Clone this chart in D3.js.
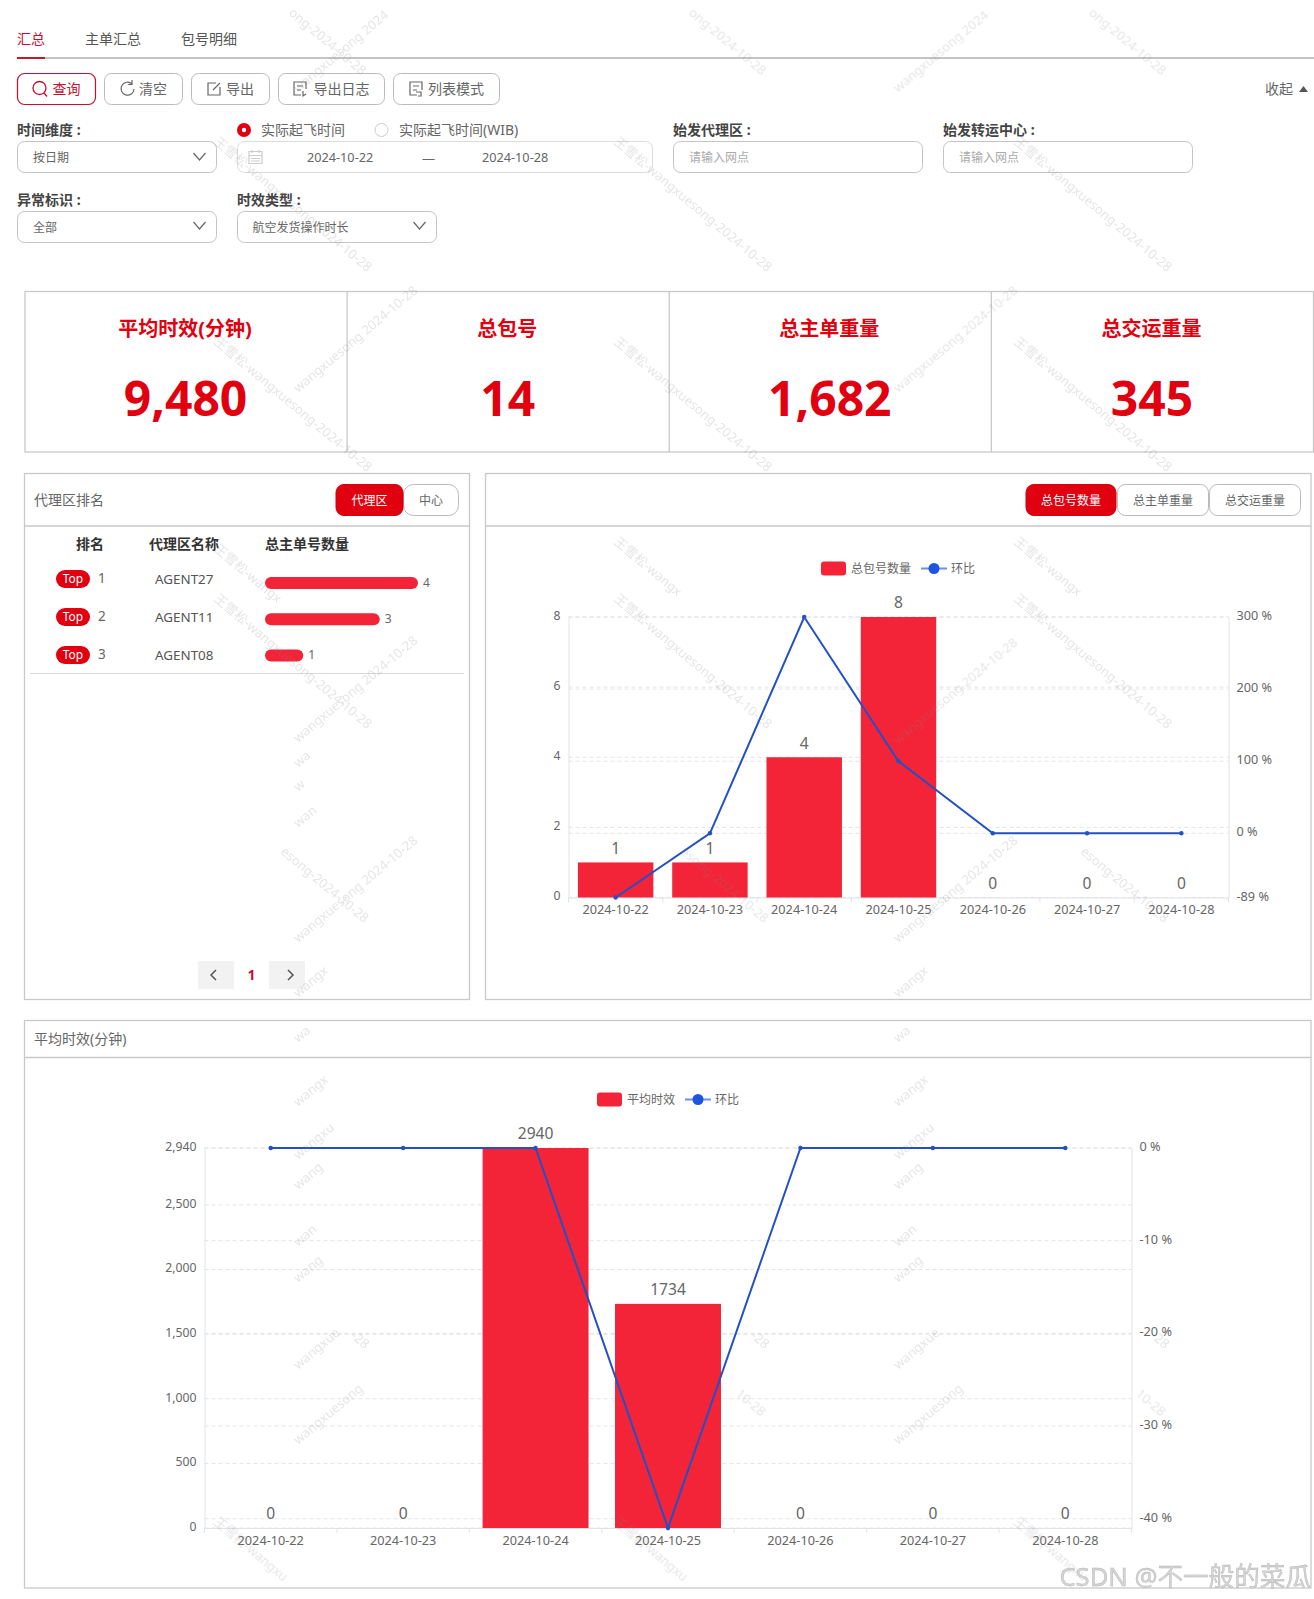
<!DOCTYPE html>
<html>
<head>
<meta charset="utf-8">
<title>汇总</title>
<script src="https://cdn.jsdelivr.net/npm/d3@7/dist/d3.min.js"></script>
<style>
  html, body { margin: 0; padding: 0; background: #fff; overflow: hidden; }
  svg { display: block; }
  text { font-family: "Noto Sans", "Noto Sans CJK SC", sans-serif; }
</style>
</head>
<body>
<div id="page"></div>
<script>
// chart data
var dates = ["2024-10-22", "2024-10-23", "2024-10-24", "2024-10-25", "2024-10-26", "2024-10-27", "2024-10-28"];

var packageCounts = [1, 1, 4, 8, 0, 0, 0];
var packageRatio = [-89, 0, 300, 100, 0, 0, 0];
var packageLeftTicks = [0, 2, 4, 6, 8];
var packageRightTicks = [-89, 0, 100, 200, 300];

var avgTimes = [0, 0, 2940, 1734, 0, 0, 0];
var avgRatio = [0, 0, 0, -41, 0, 0, 0];
var avgLeftTicks = [0, 500, 1000, 1500, 2000, 2500, 2940];
var avgRightTicks = [-40, -30, -20, -10, 0];

var rankNames = ["AGENT27", "AGENT11", "AGENT08"];
var rankValues = [4, 3, 1];

var kpiTitles = ["平均时效(分钟)", "总包号", "总主单重量", "总交运重量"];
var kpiValues = [9480, 14, 1682, 345];

var red = "#e1000f";
var barRed = "#f32437";
var lineBlue = "#2350c4";
var border = "#c9c9c9";

var svg = d3.select("#page")
  .append("svg")
  .attr("width", 1314)
  .attr("height", 1599);

// small helpers for the page furniture
function txt(x, y, s, size, color, anchor, weight) {
  return svg.append("text")
    .attr("x", x)
    .attr("y", y)
    .attr("dy", "0.35em")
    .attr("font-size", size)
    .attr("fill", color)
    .attr("text-anchor", anchor || "start")
    .attr("font-weight", weight || 400)
    .text(s);
}

function box(x, y, w, h, r, fill, stroke, sw) {
  return svg.append("rect")
    .attr("x", x).attr("y", y)
    .attr("width", w).attr("height", h)
    .attr("rx", r)
    .attr("fill", fill)
    .attr("stroke", stroke || "none")
    .attr("stroke-width", sw || 1);
}

function icon(d, color, sw) {
  return svg.append("path")
    .attr("d", d)
    .attr("fill", "none")
    .attr("stroke", color)
    .attr("stroke-width", sw || 1.2);
}

function chevron(x, y) {
  icon("M" + (x - 6) + "," + (y - 4) + "L" + x + "," + (y + 3) + "L" + (x + 6) + "," + (y - 4), "#666");
}

// tabs
txt(17, 39, "汇总", 14, "#c8102e");
txt(85, 39, "主单汇总", 14, "#555");
txt(181, 39, "包号明细", 14, "#555");
svg.append("line").attr("x1", 17).attr("x2", 1314).attr("y1", 58).attr("y2", 58)
  .attr("stroke", "#c4c4c4").attr("stroke-width", 2);
svg.append("line").attr("x1", 17).attr("x2", 45).attr("y1", 58).attr("y2", 58)
  .attr("stroke", "#b5202c").attr("stroke-width", 2);

// toolbar
box(17.5, 73.5, 78, 31, 7, "#fff", "#c8102e", 1.2);
box(104.5, 73.5, 78, 31, 7, "#fff", "#bbb", 1);
box(191.5, 73.5, 78, 31, 7, "#fff", "#bbb", 1);
box(278.5, 73.5, 106, 31, 7, "#fff", "#bbb", 1);
box(393.5, 73.5, 106, 31, 7, "#fff", "#bbb", 1);
txt(52.5, 89, "查询", 14, "#c8102e");
txt(139, 89, "清空", 14, "#666");
txt(226, 89, "导出", 14, "#666");
txt(313.5, 89, "导出日志", 14, "#666");
txt(428, 89, "列表模式", 14, "#666");
icon("M46,88a6.5,6.5 0 1,0 -13,0a6.5,6.5 0 1,0 13,0M44,93l3,3.5", "#c8102e", 1.3);
icon("M132,84a6.5,6.5 0 1,0 2,5M132,80v4.5h-4", "#666");
icon("M216,83h-8v12h12v-8M213,90l7,-7", "#666");
icon("M301,95h-7v-13h12v7M297,86h6M297,90h4M303,91v5l3,-2", "#666");
icon("M417,95h-7v-13h12v8M413,86h6M413,90h4M416,92h5v4h-3", "#666");
txt(1265, 89, "收起", 14, "#666");
svg.append("path").attr("d", "M1299,92l4.5,-6l4.5,6z").attr("fill", "#555");

// filter row 1
txt(17, 130, "时间维度 :", 14, "#444", "start", 700);
txt(673, 130, "始发代理区 :", 14, "#444", "start", 700);
txt(943, 130, "始发转运中心 :", 14, "#444", "start", 700);
svg.append("circle").attr("cx", 244).attr("cy", 130).attr("r", 7).attr("fill", red);
svg.append("circle").attr("cx", 244).attr("cy", 130).attr("r", 2.2).attr("fill", "#fff");
txt(261, 130, "实际起飞时间", 14, "#666");
svg.append("circle").attr("cx", 381.5).attr("cy", 130).attr("r", 6.5).attr("fill", "#fff").attr("stroke", "#ccc");
txt(399, 130, "实际起飞时间(WIB)", 14, "#666");

box(17.5, 141.5, 199, 31, 7, "#fff", "#c4c4c4");
txt(33, 158, "按日期", 12, "#666");
chevron(199.5, 157);
box(237.5, 141.5, 415, 31, 7, "#fff", "#dcdcdc");
icon("M249,151.5h13v12h-13zM249,155.5h13M251,158.5h9M251,161h9M252,150v3M259,150v3", "#ccc");
txt(307, 158, "2024-10-22", 12.7, "#666");
txt(428.5, 158, "—", 13, "#666", "middle");
txt(482, 158, "2024-10-28", 12.7, "#666");
box(673.5, 141.5, 249, 31, 7, "#fff", "#c4c4c4");
txt(689, 158, "请输入网点", 12, "#aaa");
box(943.5, 141.5, 249, 31, 7, "#fff", "#c4c4c4");
txt(959, 158, "请输入网点", 12, "#aaa");

// filter row 2
txt(17, 200, "异常标识 :", 14, "#444", "start", 700);
txt(237, 200, "时效类型 :", 14, "#444", "start", 700);
box(17.5, 211.5, 199, 31, 7, "#fff", "#c4c4c4");
txt(33, 228, "全部", 12, "#666");
chevron(199.5, 226);
box(237.5, 211.5, 199, 31, 7, "#fff", "#c4c4c4");
txt(252.5, 228, "航空发货操作时长", 12, "#666");
chevron(419.5, 226);

// KPI cards
var kpiX = d3.scaleBand().domain(d3.range(kpiTitles.length)).range([25, 1313.5]);
box(25, 291.5, 1288.5, 160.5, 0, "#fff", border, 1.3);
kpiTitles.forEach(function(t, i) {
  var cx = kpiX(i) + kpiX.bandwidth() / 2;
  if (i > 0) {
    svg.append("line").attr("x1", kpiX(i)).attr("x2", kpiX(i)).attr("y1", 291.5).attr("y2", 452)
      .attr("stroke", border).attr("stroke-width", 1.3);
  }
  txt(cx - 1, 329, t, 20, red, "middle", 700);
  svg.append("text")
    .attr("x", cx - 0.5)
    .attr("y", 416)
    .attr("font-size", 48)
    .attr("font-weight", 700)
    .attr("fill", red)
    .attr("text-anchor", "middle")
    .style("font-family", '"Open Sans", sans-serif')
    .text(d3.format(",")(kpiValues[i]));
});

// ranking panel
box(24.5, 473.5, 445, 526, 0, "#fff", border, 1.3);
svg.append("line").attr("x1", 24.5).attr("x2", 469.5).attr("y1", 526).attr("y2", 526).attr("stroke", border).attr("stroke-width", 1.3);
txt(34, 500, "代理区排名", 14, "#666");
box(403.5, 484.5, 55, 31, 10, "#fff", "#bbb");
box(336, 484.5, 67, 31, 8, red, "#d0000d");
txt(369.5, 501, "代理区", 12, "#fff", "middle");
txt(431, 501, "中心", 12, "#666", "middle");

txt(76, 544, "排名", 14, "#333", "start", 700);
txt(149, 544, "代理区名称", 14, "#333", "start", 700);
txt(265, 544, "总主单号数量", 14, "#333", "start", 700);

var rankY = d3.scaleBand().domain(rankNames).range([560, 674]);
var rankBarY = d3.scalePoint().domain(rankNames).range([583, 655.5]);
var rankX = d3.scaleLinear().domain([0, 4]).range([265, 418]);

rankNames.forEach(function(name, i) {
  var cy = rankY(name) + rankY.bandwidth() / 2;
  box(56, cy - 9, 34, 18, 9, red);
  txt(73, cy, "Top", 12, "#fff", "middle");
  txt(98, cy - 1, i + 1, 13.5, "#666");
  txt(155, cy, name, 13.4, "#555");
});

svg.append("g").selectAll("rect")
  .data(rankValues)
  .enter()
  .append("rect")
  .attr("x", rankX(0))
  .attr("y", function(d, i) { return rankBarY(rankNames[i]) - 6; })
  .attr("width", function(d) { return rankX(d) - rankX(0); })
  .attr("height", 12)
  .attr("rx", 6)
  .attr("fill", barRed);

svg.append("g").selectAll("text")
  .data(rankValues)
  .enter()
  .append("text")
  .attr("x", function(d) { return rankX(d) + 5; })
  .attr("y", function(d, i) { return rankBarY(rankNames[i]) - 0.5; })
  .attr("dy", "0.35em")
  .attr("font-size", 12)
  .attr("fill", "#666")
  .text(function(d) { return d; });

svg.append("line").attr("x1", 30).attr("x2", 464).attr("y1", 673.5).attr("y2", 673.5).attr("stroke", "#d8d8d8");

// pager
box(198, 961, 36, 28, 0, "#f2f2f2");
box(269, 961, 36, 28, 0, "#f2f2f2");
icon("M216,970l-5,5l5,5", "#555", 1.5);
icon("M288,970l5,5l-5,5", "#555", 1.5);
txt(251.5, 975, "1", 14, "#c8102e", "middle", 700);

// package chart panel
box(485.5, 473.5, 825.5, 526, 0, "#fff", border, 1.3);
svg.append("line").attr("x1", 485.5).attr("x2", 1311).attr("y1", 526).attr("y2", 526).attr("stroke", border).attr("stroke-width", 1.3);
box(1117.5, 484.5, 91, 31, 8, "#fff", "#bbb");
box(1209.5, 484.5, 91, 31, 8, "#fff", "#bbb");
box(1026, 484.5, 90, 31, 8, red, "#d0000d");
txt(1071, 501, "总包号数量", 12, "#fff", "middle");
txt(1163, 501, "总主单重量", 12, "#666", "middle");
txt(1255, 501, "总交运重量", 12, "#666", "middle");

// average time panel
box(24.5, 1020.5, 1286.5, 567.5, 0, "#fff", border, 1.3);
svg.append("line").attr("x1", 24.5).attr("x2", 1311).attr("y1", 1057.5).attr("y2", 1057.5).attr("stroke", border).attr("stroke-width", 1.3);
txt(34, 1039, "平均时效(分钟)", 14, "#666");

// bar + line combo, used by both charts
function combo(opt) {
  var x = d3.scaleBand().domain(dates).range([opt.left, opt.right]).paddingInner(0.2).paddingOuter(0.1);
  var y = d3.scaleLinear().domain(opt.barDomain).range([opt.bottom, opt.top]);
  var y2 = d3.scaleLinear().domain(opt.lineDomain).range([opt.bottom, opt.top]);
  var g = svg.append("g");
  var step = (opt.right - opt.left) / dates.length;

  // legend
  var lg = g.append("g");
  lg.append("rect").attr("x", opt.legendX).attr("y", opt.legendY - 7).attr("width", 25).attr("height", 14).attr("rx", 3).attr("fill", barRed);
  lg.append("text").attr("x", opt.legendX + 30).attr("y", opt.legendY).attr("dy", "0.35em")
    .attr("font-size", 12).attr("fill", "#666").text(opt.barName);
  var lx = opt.legendX + 40 + opt.barName.length * 12;
  lg.append("line").attr("x1", lx).attr("x2", lx + 26).attr("y1", opt.legendY).attr("y2", opt.legendY)
    .attr("stroke", "#6f8fe6").attr("stroke-width", 2);
  lg.append("circle").attr("cx", lx + 13).attr("cy", opt.legendY).attr("r", 5.5).attr("fill", "#1f55de");
  lg.append("text").attr("x", lx + 30).attr("y", opt.legendY).attr("dy", "0.35em")
    .attr("font-size", 12).attr("fill", "#666").text("环比");

  // dashed grid for both value axes
  var gridLines = opt.leftTicks.map(function(d) { return y(d); })
    .concat(opt.rightTicks.map(function(d) { return y2(d); }));
  g.append("g").selectAll("line")
    .data(gridLines)
    .enter()
    .append("line")
    .attr("x1", opt.left).attr("x2", opt.right)
    .attr("y1", function(d) { return d; }).attr("y2", function(d) { return d; })
    .attr("stroke", "#e4e4e4")
    .attr("stroke-dasharray", "4 3");

  // left axis
  var yAxis = g.append("g")
    .attr("transform", "translate(" + opt.left + ",0)")
    .call(d3.axisLeft(y).tickValues(opt.leftTicks).tickSize(0).tickPadding(8).tickFormat(d3.format(",")));
  // right axis
  var y2Axis = g.append("g")
    .attr("transform", "translate(" + opt.right + ",0)")
    .call(d3.axisRight(y2).tickValues(opt.rightTicks).tickSize(0).tickPadding(8).tickFormat(function(d) { return d + " %"; }));
  // bottom axis, ticks sit between the days so they are added by hand below
  var xAxis = g.append("g")
    .attr("transform", "translate(0," + opt.bottom + ")")
    .call(d3.axisBottom(x).tickSize(0).tickPadding(opt.xPad));

  [yAxis, y2Axis, xAxis].forEach(function(a) {
    a.selectAll("text").attr("font-size", 12.7).attr("fill", "#666")
      .style("font-family", '"Noto Sans", sans-serif');
    a.select(".domain").attr("stroke", "#e0e4ea");
  });
  yAxis.selectAll("text").attr("font-size", 12.2).attr("dy", "0.2em");
  y2Axis.selectAll("text").attr("dy", "0.2em");

  g.append("g").selectAll("line")
    .data(d3.range(dates.length + 1))
    .enter()
    .append("line")
    .attr("x1", function(d) { return opt.left + d * step; })
    .attr("x2", function(d) { return opt.left + d * step; })
    .attr("y1", opt.bottom).attr("y2", opt.bottom + 5)
    .attr("stroke", "#e0e4ea");

  // bars
  g.append("g").selectAll("rect")
    .data(opt.bars)
    .enter()
    .append("rect")
    .attr("x", function(d, i) { return x(dates[i]); })
    .attr("y", function(d) { return y(d); })
    .attr("width", x.bandwidth())
    .attr("height", function(d) { return y(0) - y(d); })
    .attr("fill", barRed);

  // value labels
  g.append("g").selectAll("text")
    .data(opt.bars)
    .enter()
    .append("text")
    .attr("x", function(d, i) { return x(dates[i]) + x.bandwidth() / 2; })
    .attr("y", function(d) { return y(d) - 14; })
    .attr("dy", "0.35em")
    .attr("text-anchor", "middle")
    .attr("font-size", 15.6)
    .attr("fill", "#666")
    .text(function(d) { return d; });

  // ratio line
  var line = d3.line()
    .x(function(d, i) { return x(dates[i]) + x.bandwidth() / 2; })
    .y(function(d) { return y2(d); });
  g.append("path")
    .datum(opt.ratio)
    .attr("d", line)
    .attr("fill", "none")
    .attr("stroke", lineBlue)
    .attr("stroke-width", 2);
  g.append("g").selectAll("circle")
    .data(opt.ratio)
    .enter()
    .append("circle")
    .attr("cx", function(d, i) { return x(dates[i]) + x.bandwidth() / 2; })
    .attr("cy", function(d) { return y2(d); })
    .attr("r", 2.2)
    .attr("fill", lineBlue);
}

combo({
  left: 568.5, right: 1228.5, top: 617, bottom: 897.5, xPad: 7,
  barDomain: [0, 8], lineDomain: [-89, 300],
  bars: packageCounts, ratio: packageRatio,
  leftTicks: packageLeftTicks, rightTicks: packageRightTicks,
  barName: "总包号数量", legendX: 821, legendY: 568.5
});

combo({
  left: 204.5, right: 1131.5, top: 1148, bottom: 1528, xPad: 8,
  barDomain: [0, 2940], lineDomain: [-41, 0],
  bars: avgTimes, ratio: avgRatio,
  leftTicks: avgLeftTicks, rightTicks: avgRightTicks,
  barName: "平均时效", legendX: 597, legendY: 1099.5
});

// watermarks, the fragments are what is left showing between the widgets
var wmFull = "王雪松-wangxuesong-2024-10-28";
var wmUpFull = "wangxuesong  2024-10-28";
var wmDown = [
  [288, 14, "ong-2024-10-28"], [688, 14, "ong-2024-10-28"], [1088, 14, "ong-2024-10-28"],
  [213, 143, wmFull], [613, 143, wmFull], [1013, 143, wmFull],
  [213, 343, wmFull], [613, 343, wmFull], [1013, 343, wmFull],
  [213, 550, "王雪松-wangx"], [613, 543, "王雪松-wangx"], [1013, 543, "王雪松-wangx"],
  [213, 600, wmFull], [613, 600, wmFull], [1013, 600, wmFull],
  [280, 853, "esong-2024-10-28"], [680, 853, "esong-2024-10-28"], [1080, 853, "esong-2024-10-28"],
  [213, 1523, "王雪松-wangxu"], [613, 1523, "王雪松-wangxu"], [1013, 1523, "王雪松-wangxu"],
  [350, 1337, "-28"], [750, 1337, "-28"], [1150, 1337, "-28"],
  [735, 1395, "10-28"], [1135, 1395, "10-28"]
];
var wmUp = [
  [298, 93, "wangxuesong  2024"], [898, 93, "wangxuesong  2024"],
  [298, 393, wmUpFull], [898, 393, wmUpFull],
  [298, 743, wmUpFull], [898, 745, wmUpFull],
  [298, 943, wmUpFull], [898, 943, wmUpFull],
  [298, 768, "wa"], [298, 792, "w"], [298, 828, "wan"], [298, 998, "wangx"], [898, 998, "wangx"],
  [298, 1043, "wa"], [298, 1107, "wangx"], [298, 1160, "wangxu"], [298, 1190, "wang"],
  [298, 1247, "wan"], [298, 1283, "wang"], [298, 1370, "wangxue"], [298, 1445, "wangxuesong"],
  [898, 1043, "wa"], [898, 1107, "wangx"], [898, 1160, "wangxu"], [898, 1190, "wang"],
  [898, 1247, "wan"], [898, 1283, "wang"], [898, 1370, "wangxue"], [898, 1445, "wangxuesong"]
];

var wm = svg.append("g").attr("fill", "#8a8a8a").attr("opacity", 0.22).attr("font-size", 13);
wm.selectAll(".down")
  .data(wmDown)
  .enter()
  .append("text")
  .attr("class", "down")
  .attr("transform", function(d) { return "translate(" + d[0] + "," + d[1] + ") rotate(40)"; })
  .text(function(d) { return d[2]; });
wm.selectAll(".up")
  .data(wmUp)
  .enter()
  .append("text")
  .attr("class", "up")
  .attr("transform", function(d) { return "translate(" + d[0] + "," + d[1] + ") rotate(-40)"; })
  .text(function(d) { return d[2]; });

// CSDN mark in the corner
svg.append("text")
  .attr("x", 1311)
  .attr("y", 1586)
  .attr("text-anchor", "end")
  .attr("font-size", 25.6)
  .attr("fill", "#d4d4d4")
  .attr("stroke", "#b5b5b5")
  .attr("stroke-width", 0.4)
  .text("CSDN @不一般的菜瓜");
</script>
</body>
</html>
